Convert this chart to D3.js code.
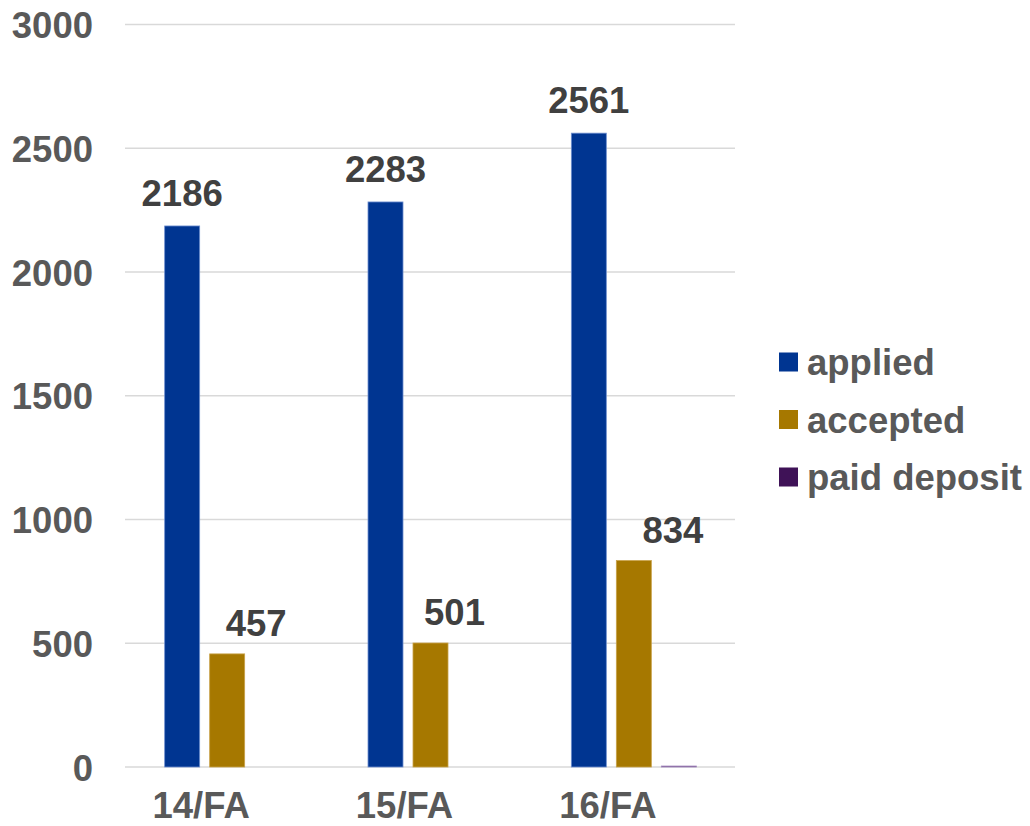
<!DOCTYPE html>
<html>
<head>
<meta charset="utf-8">
<script src="https://cdn.jsdelivr.net/npm/d3@7"></script>
<style>
  html, body { margin: 0; padding: 0; background: #fff; }
  svg { display: block; font-family: "Liberation Sans", Arial, sans-serif; font-weight: bold; }
</style>
</head>
<body>
<svg id="chart" width="1030" height="826"></svg>
<script>
// Admissions funnel by fall term
const terms = ["14/FA", "15/FA", "16/FA"];
const seriesNames = ["applied", "accepted", "paid deposit"];
const applied = [2186, 2283, 2561];
const accepted = [457, 501, 834];
const paidDeposit = [0, 0, 4];
const yTicks = [0, 500, 1000, 1500, 2000, 2500, 3000];

const colors = { "applied": "#003591", "accepted": "#a67800", "paid deposit": "#3f1257" };
const edges = { "applied": "#6f8fd0", "accepted": "#c9a24a", "paid deposit": "#a58cc0" };

// label layout tweaks
const acceptedLabelNudge = [29, 24, 39];
const termLabelShift = -26;
const fontSize = 36.5;

const valuesBySeries = { "applied": applied, "accepted": accepted, "paid deposit": paidDeposit };

const svg = d3.select("#chart");

const x = d3.scaleBand().domain(terms).range([125.5, 735.5]).padding(0);
const groupWidth = 125;
const xs = d3.scaleBand().domain(seriesNames).range([0, groupWidth]).paddingInner(10 / 45).paddingOuter(0);
const y = d3.scaleLinear().domain([0, 3000]).range([767, 24.5]);

// gridlines
svg.append("g").selectAll("line").data(yTicks).join("line")
  .attr("x1", 125).attr("x2", 735)
  .attr("y1", d => y(d)).attr("y2", d => y(d))
  .attr("stroke", "#d9d9d9").attr("stroke-width", 1.6);

// y axis labels
const yAxis = d3.axisLeft(y).tickValues(yTicks).tickSize(0).tickPadding(0).tickFormat(d3.format("d"));
const yg = svg.append("g").attr("transform", "translate(93,0)").call(yAxis);
yg.select(".domain").remove();
yg.selectAll("text")
  .attr("fill", "#595959").attr("font-size", fontSize).attr("font-weight", "bold")
  .attr("font-family", "Liberation Sans, Arial, sans-serif")
  .attr("dy", "0.36em");

// bars
const rows = [];
terms.forEach((t, i) => seriesNames.forEach(s => rows.push({ term: t, i, series: s, value: valuesBySeries[s][i] })));
const groupStart = t => x(t) + (x.bandwidth() - groupWidth) / 2;

svg.append("g").selectAll("rect").data(rows.filter(r => r.value > 0)).join("rect")
  .attr("x", d => groupStart(d.term) + xs(d.series))
  .attr("width", xs.bandwidth())
  .attr("y", d => y(d.value))
  .attr("height", d => Math.max(1, y(0) - y(d.value)))
  .attr("fill", d => colors[d.series])
  .attr("stroke", d => edges[d.series])
  .attr("stroke-width", 0.8);

// value labels
const labelRows = rows.filter(r => r.series !== "paid deposit");
svg.append("g").selectAll("text").data(labelRows).join("text")
  .attr("x", d => groupStart(d.term) + xs(d.series) + xs.bandwidth() / 2 + (d.series === "accepted" ? acceptedLabelNudge[d.i] : 0))
  .attr("y", d => y(d.value) - (d.series === "accepted" ? 18 : 20))
  .attr("text-anchor", "middle")
  .attr("fill", "#404040").attr("font-size", fontSize)
  .text(d => d.value);

// category labels
const xAxis = d3.axisBottom(x).tickSize(0).tickPadding(0);
const xg = svg.append("g").attr("transform", "translate(0,767)").call(xAxis);
xg.select(".domain").remove();
xg.selectAll("text")
  .attr("fill", "#595959").attr("font-size", fontSize).attr("font-weight", "bold")
  .attr("font-family", "Liberation Sans, Arial, sans-serif")
  .attr("dx", termLabelShift).attr("dy", 0).attr("y", 51);

// legend
const legend = svg.append("g").attr("transform", "translate(779,0)");
const legendY = d3.scalePoint().domain(seriesNames).range([362, 477]);
const li = legend.selectAll("g").data(seriesNames).join("g")
  .attr("transform", d => `translate(0,${legendY(d)})`);
li.append("rect").attr("x", 0).attr("y", -9.5).attr("width", 19).attr("height", 19)
  .attr("fill", d => colors[d]);
li.append("text").attr("x", 28).attr("y", 0).attr("dy", "0.36em")
  .attr("fill", "#595959").attr("font-size", fontSize)
  .text(d => d);
</script>
</body>
</html>
